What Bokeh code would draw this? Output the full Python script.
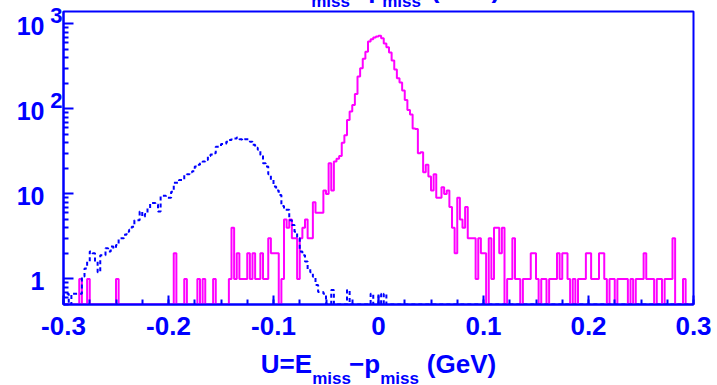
import math
import numpy as np
from bokeh.plotting import figure
from bokeh.models import FixedTicker, LinearAxis, LogAxis, Range1d
from bokeh.embed import file_html
from bokeh.resources import INLINE

# ---- histogram data: U = E_miss - p_miss, 240 bins from -0.3 to 0.3 GeV ----
X_LO, X_HI, N_BINS = -0.3, 0.3, 240

# solid magenta histogram (events per bin)
signal_counts = [
    0, 0, 0, 0, 0, 0, 1, 0, 0, 1,            # 0-9
    0, 0, 0, 0, 0, 0, 0, 0, 0, 0,            # 10-19
    1, 0, 0, 0, 0, 0, 0, 0, 0, 0,            # 20-29
    0, 0, 0, 0, 0, 0, 0, 0, 0, 0,            # 30-39
    0, 0, 2, 0, 0, 0, 1, 0, 0, 0,            # 40-49
    0, 1, 0, 1, 0, 0, 0, 1, 0, 0,            # 50-59
    0, 0, 0, 1, 4, 1, 2, 1, 1, 1,            # 60-69
    2, 1, 2, 1, 1, 2, 1, 1, 3, 2,            # 70-79
    2, 2, 0, 1, 5, 4, 5, 3, 3, 1,            # 80-89
    3, 4, 5, 3, 3, 8, 6, 6, 6, 11,           # 90-99
    10, 23, 11, 24, 26, 28, 40, 49, 74, 93,  # 100-109
    111, 150, 240, 300, 390, 470, 620, 660, 690, 710,  # 110-119
    725, 680, 590, 530, 460, 370, 290, 230, 205, 165,  # 120-129
    127, 97, 86, 59, 58, 30, 31, 18, 22, 16,  # 130-139
    11, 17, 9, 9, 12, 10, 11, 7, 4, 2,       # 140-149
    9, 5, 4, 7, 3, 3, 3, 1, 3, 2,            # 150-159
    2, 0, 3, 1, 4, 4, 2, 4, 0, 1,            # 160-169
    1, 3, 1, 1, 0, 1, 1, 1, 2, 2,            # 170-179
    1, 0, 1, 1, 0, 1, 1, 1, 2, 1,            # 180-189
    2, 2, 1, 0, 1, 0, 1, 1, 1, 2,            # 190-199
    2, 1, 1, 1, 2, 2, 1, 0, 1, 1,            # 200-209
    0, 1, 1, 1, 1, 0, 1, 0, 1, 1,            # 210-219
    1, 2, 1, 1, 1, 0, 1, 1, 0, 1,            # 220-229
    1, 1, 3, 0, 0, 0, 1, 0, 0, 0,            # 230-239
]

# dashed blue histogram (scaled)
background_counts = [
    0.67, 0.67, 0, 0.67, 0.67, 0.67, 0.67, 1.07, 1.33, 1.6,   # 0-9
    2.1, 2.0, 1.6, 1.2, 1.9, 1.9, 2.3, 2.1, 2.4, 2.3,         # 10-19
    2.5, 3.0, 3.0, 3.3, 3.6, 3.8, 4.1, 4.9, 4.9, 6.2,         # 20-29
    5.4, 5.8, 6.8, 7.8, 7.8, 7.5, 6.2, 9.5, 9.5, 9.0,         # 30-39
    9.0, 10.6, 13.5, 13.5, 14.6, 14.6, 16.7, 17, 18, 18.5,    # 40-49
    21, 22, 23, 24, 25, 28, 29, 30, 36, 36,                   # 50-59
    38.7, 39, 41, 43, 45, 45, 46, 44, 43, 44,                 # 60-69
    44, 41, 37.8, 35, 33, 28.7, 23, 21, 17, 14.6,             # 70-79
    12.2, 11, 9.7, 7.2, 6.5, 6.5, 4.9, 4.3, 3.6, 3.0,         # 80-89
    2.1, 1.9, 1.6, 1.3, 1.2, 1.06, 0.85, 0.7, 0.7, 0.67,      # 90-99
    0, 0, 0.74, 0, 0, 0, 0, 0, 0.74, 0,                       # 100-109
    0, 0, 0, 0, 0, 0, 0, 0.67, 0, 0,                          # 110-119
    0.67, 0, 0.67, 0, 0, 0, 0, 0, 0, 0,                       # 120-129
] + [0] * 110                                                 # 130-239

x_major = [-0.3, -0.2, -0.1, 0.0, 0.1, 0.2, 0.3]
x_tick_labels = ["-0.3", "-0.2", "-0.1", "0", "0.1", "0.2", "0.3"]
x_minor_step = 0.025
y_major = [1, 10, 100, 1000]
y_tick_base = ["1", "10", "10", "10"]
y_tick_power = ["", "", "2", "3"]
Y_MIN, Y_MAX = 0.5, 1400

# axis title U=E_miss - p_miss (GeV): large pieces and their subscripts
title_main = ["U=E", "\u2212p", "(GeV)"]
title_subs = ["miss", "miss"]

# ---- styling / geometry ----
BLUE = "#0000ff"
MAGENTA = "#ff00ff"
FONT = "Liberation Sans"
W, H = 717, 385
FRAME_L, FRAME_R, FRAME_T, FRAME_B = 63, 693, 11, 304
TOP_PAD = 60                       # room above the frame for the (clipped) plot title
HIDDEN = TOP_PAD - FRAME_T         # that room, minus the visible strip, lies above the page

LOG_LO, LOG_HI = math.log10(Y_MIN), math.log10(Y_MAX)
PX_PER_DECADE = (FRAME_B - FRAME_T) / (LOG_HI - LOG_LO)


def col_to_x(px):
    return X_LO + (px - FRAME_L) * (X_HI - X_LO) / (FRAME_R - FRAME_L)


def lift(v, px):
    """value that sits px pixels above v on the log axis"""
    return v * 10 ** (px / PX_PER_DECADE)


p = figure(frame_width=FRAME_R - FRAME_L, frame_height=FRAME_B - FRAME_T,
           output_backend="svg", toolbar_location=None, title_location=None,
           y_axis_type="log",
           x_range=Range1d(X_LO, X_HI), y_range=Range1d(Y_MIN, Y_MAX),
           min_border_left=FRAME_L, min_border_right=W - FRAME_R,
           min_border_top=TOP_PAD, min_border_bottom=H - FRAME_B)
p.margin = (-HIDDEN, 0, 0, 0)
p.background_fill_color = "white"
p.border_fill_color = "white"
p.grid.visible = False
p.outline_line_color = BLUE
p.outline_line_width = 2

edges = np.linspace(X_LO, X_HI, N_BINS + 1)


def step_path(counts):
    c = np.asarray(counts, dtype=float)
    c = np.where(c > 0, c, Y_MIN)          # empty bins sit on the floor
    xs = np.concatenate([[edges[0]], np.repeat(edges, 2)[1:-1], [edges[-1]]])
    ys = np.concatenate([[Y_MIN], np.repeat(c, 2), [Y_MIN]])
    return xs, ys


sx, sy = step_path(signal_counts)
p.line(sx, sy, line_color=MAGENTA, line_width=2)
bx, by = step_path(background_counts)
p.line(bx, by, line_color=BLUE, line_width=2, line_dash="4 3")

# ---- main axes ----
minor_x = [round(X_LO + i * x_minor_step, 4) for i in range(int(round((X_HI - X_LO) / x_minor_step)) + 1)]
p.xaxis.ticker = FixedTicker(ticks=x_major, minor_ticks=minor_x)
p.xaxis.major_label_overrides = dict(zip(x_major, x_tick_labels))
minor_y = [d * 10 ** k for k in range(-1, 4) for d in range(2, 10)
           if Y_MIN <= d * 10 ** k <= Y_MAX and d * 10 ** k not in y_major]
p.yaxis.ticker = FixedTicker(ticks=y_major, minor_ticks=minor_y)
p.yaxis.major_label_overrides = {t: "" for t in y_major}

for ax in (p.xaxis[0], p.yaxis[0]):
    ax.axis_line_color = BLUE
    ax.axis_line_width = 2
    ax.major_tick_line_color = BLUE
    ax.minor_tick_line_color = BLUE
    ax.major_tick_line_width = 2
    ax.minor_tick_line_width = 2
    ax.major_tick_out = 0
    ax.minor_tick_out = 0
    ax.major_label_text_color = BLUE
    ax.major_label_text_font = FONT
    ax.major_label_text_font_style = "bold"
    ax.major_label_text_font_size = "26px"

p.xaxis.major_tick_in = 9
p.xaxis.minor_tick_in = 5
p.xaxis.major_label_standoff = 12
p.yaxis.major_tick_in = 10
p.yaxis.minor_tick_in = 5
p.yaxis.major_label_standoff = 0


def text_axis(side, ticks, labels, size, standoff):
    """a bare axis whose tick labels carry free text at given positions"""
    cls = LogAxis if side in ("left", "right") else LinearAxis
    ax = cls(ticker=FixedTicker(ticks=list(ticks), minor_ticks=[]),
             major_label_overrides=dict(zip(ticks, labels)),
             major_label_standoff=standoff,
             axis_line_color=None, major_tick_line_color=None,
             minor_tick_line_color=None,
             major_tick_in=0, major_tick_out=0, minor_tick_in=0, minor_tick_out=0,
             major_label_text_color=BLUE, major_label_text_font=FONT,
             major_label_text_font_style="bold",
             major_label_text_font_size=f"{size}px")
    p.add_layout(ax, side)


# y tick labels: superscripts next to the frame, then the bases
powers = [(lift(t, 8), s) for t, s in zip(y_major, y_tick_power) if s]
text_axis("left", [v for v, _ in powers], [s for _, s in powers], 22, 1)
text_axis("left", [lift(t, -2) for t in y_major], y_tick_base, 25, 3)

# x axis title below the tick labels
text_axis("below", [col_to_x(c) for c in (331, 399)], title_subs, 17, 31)
text_axis("below", [col_to_x(c) for c in (286, 364, 461)], title_main, 26, -42)

# plot title, only its lowest strip shows at the top of the page
text_axis("above", [col_to_x(c) for c in (330, 401)], title_subs, 17, 1)
text_axis("above", [col_to_x(c) for c in (284, 368, 465)], title_main, 26, -15)

open("out.html", "w").write(file_html(p, INLINE))
